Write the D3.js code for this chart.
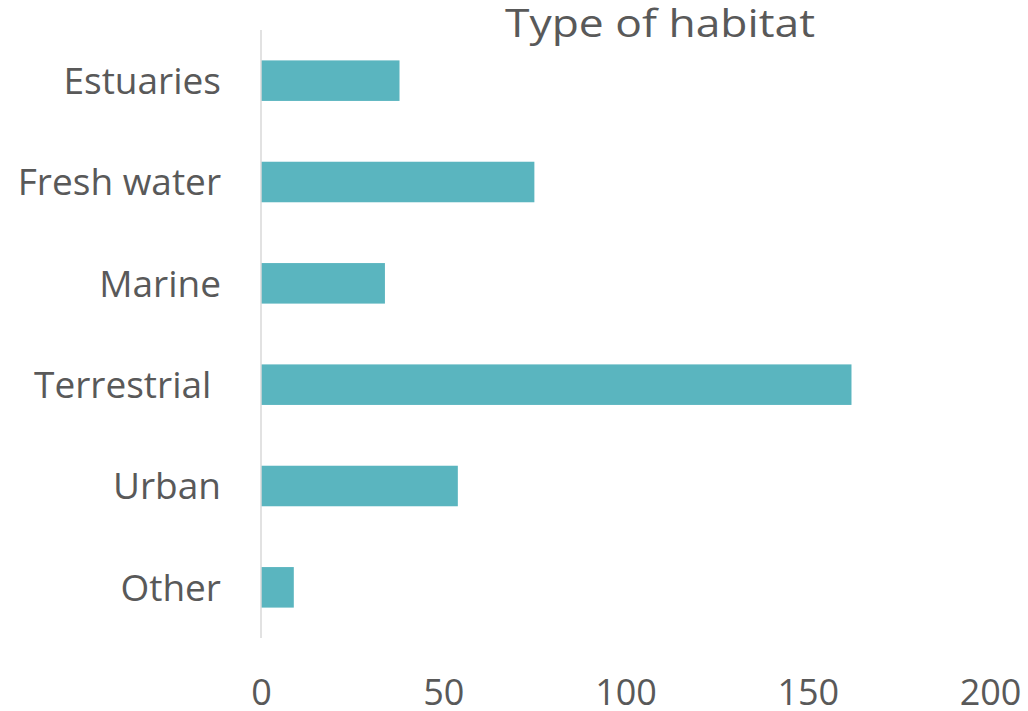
<!DOCTYPE html>
<html>
<head>
<meta charset="utf-8">
<script src="https://cdn.jsdelivr.net/npm/d3@7"></script>
<style>
  html, body { margin: 0; padding: 0; background: #ffffff; }
  svg { display: block; }
  text { font-family: "Open Sans", "Noto Sans", sans-serif; fill: #595959; white-space: pre; }
</style>
</head>
<body>
<svg id="chart" width="1028" height="711"></svg>
<script>
const categories = ["Estuaries", "Fresh water", "Marine", "Terrestrial ", "Urban", "Other"];
const values = [38, 75, 34, 162, 54, 9];
const tickValues = [0, 50, 100, 150, 200];
const title = "Type of habitat";

const svg = d3.select("#chart");
const margin = { left: 261, right: 38, top: 30, bottom: 73 };
const W = 1028, H = 711;

const x = d3.scaleLinear().domain([0, 200]).range([margin.left, W - margin.right]);
const y = d3.scaleBand().domain(categories).range([margin.top, H - margin.bottom]).paddingInner(0.6).paddingOuter(0.3);

svg.selectAll("rect.bar")
  .data(categories)
  .join("rect")
  .attr("class", "bar")
  .attr("x", x(0))
  .attr("y", d => y(d))
  .attr("width", (d, i) => x(values[i]) - x(0))
  .attr("height", y.bandwidth())
  .attr("fill", "#5ab5bf");

// vertical axis line
svg.append("line")
  .attr("x1", x(0)).attr("x2", x(0))
  .attr("y1", margin.top).attr("y2", H - margin.bottom)
  .attr("stroke", "#d9d9d9").attr("stroke-width", 1.5);

// category labels
const yAxis = d3.axisLeft(y).tickSize(0).tickPadding(40);
const gy = svg.append("g").attr("transform", `translate(${x(0)},0)`).call(yAxis);
gy.select(".domain").remove();
gy.selectAll("text").attr("font-size", 37).attr("fill", "#595959").attr("dy", "0.36em")
  .style("font-family", '"Open Sans", sans-serif').attr("xml:space", "preserve");

// x axis tick labels
const xAxis = d3.axisBottom(x).tickValues(tickValues).tickSize(0).tickPadding(0);
const gx = svg.append("g").attr("transform", `translate(0,${H - margin.bottom})`).call(xAxis);
gx.select(".domain").remove();
gx.selectAll("text").attr("font-size", 36).attr("fill", "#595959").attr("dy", null).attr("y", 67)
  .style("font-family", '"Open Sans", sans-serif');

svg.append("text")
  .attr("x", 660).attr("y", 37)
  .attr("text-anchor", "middle")
  .attr("font-size", 38)
  .attr("textLength", 310)
  .attr("lengthAdjust", "spacingAndGlyphs")
  .text(title);
</script>
</body>
</html>
